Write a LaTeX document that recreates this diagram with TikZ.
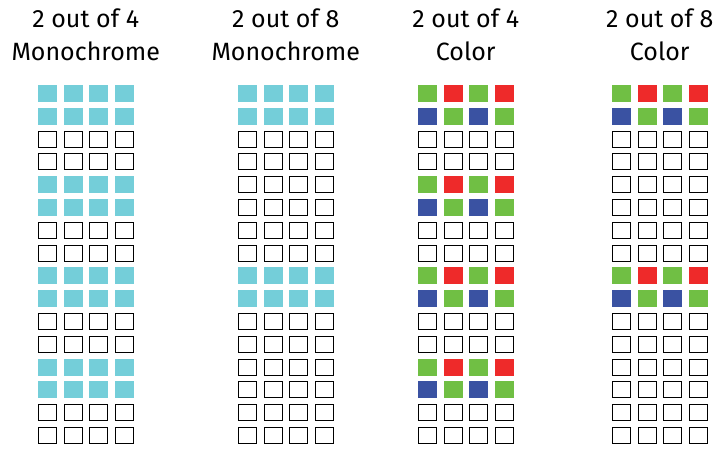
\documentclass[tikz,border=0pt]{standalone}
\usepackage{fontspec}
\setmainfont{Fira Sans}
\definecolor{fc0}{HTML}{74CED9}
\definecolor{fc1}{HTML}{70BF44}
\definecolor{fc2}{HTML}{EE2A2A}
\definecolor{fc3}{HTML}{3A52A2}
\begin{document}
\begin{tikzpicture}[x=1pt,y=-1pt,
  cell/.style={inner sep=0pt, outer sep=0pt, anchor=center},
  filledcell/.style={cell, minimum width=19pt, minimum height=17pt},
  emptycell/.style={cell, minimum width=18pt, minimum height=16pt, draw=black, line width=1pt},
  title/.style={anchor=base, inner sep=0pt, font=\fontsize{25}{33}\selectfont}]
\useasboundingbox (0,0) rectangle (716,450);
% titles
\node[title] (t1a) at (85.75,27) {2 out of 4};
\node[title] (t1b) at (85.75,60) {Monochrome};
\node[title] (t2a) at (285.75,27) {2 out of 8};
\node[title] (t2b) at (285.75,60) {Monochrome};
\node[title] (t3a) at (465.75,27) {2 out of 4};
\node[title] (t3b) at (465.75,60) {Color};
\node[title] (t4a) at (659.75,27) {2 out of 8};
\node[title] (t4b) at (659.75,60) {Color};
% grids
\foreach \g/\gx/\per/\col in {1/38/4/0, 2/238/8/0, 3/418/4/1, 4/612/8/1} {
  \foreach \r in {0,...,15} {
    \foreach \c in {0,...,3} {
      \pgfmathtruncatemacro{\on}{mod(\r,\per)<2 ? 1 : 0}
      \pgfmathtruncatemacro{\k}{\col==0 ? 0 : (mod(\r,2)==0 ? (mod(\c,2)==0 ? 1 : 2) : (mod(\c,2)==0 ? 3 : 1))}
      \ifnum\on=1
        \node[filledcell, fill=fc\k] (g\g-\r-\c) at ({\gx+25.5*\c+9.5},{85+22.8*\r+8.5}) {};
      \else
        \node[emptycell] (g\g-\r-\c) at ({\gx+25.5*\c+9.5},{85+22.8*\r+8.5}) {};
      \fi
    }
  }
}
\end{tikzpicture}
\end{document}
